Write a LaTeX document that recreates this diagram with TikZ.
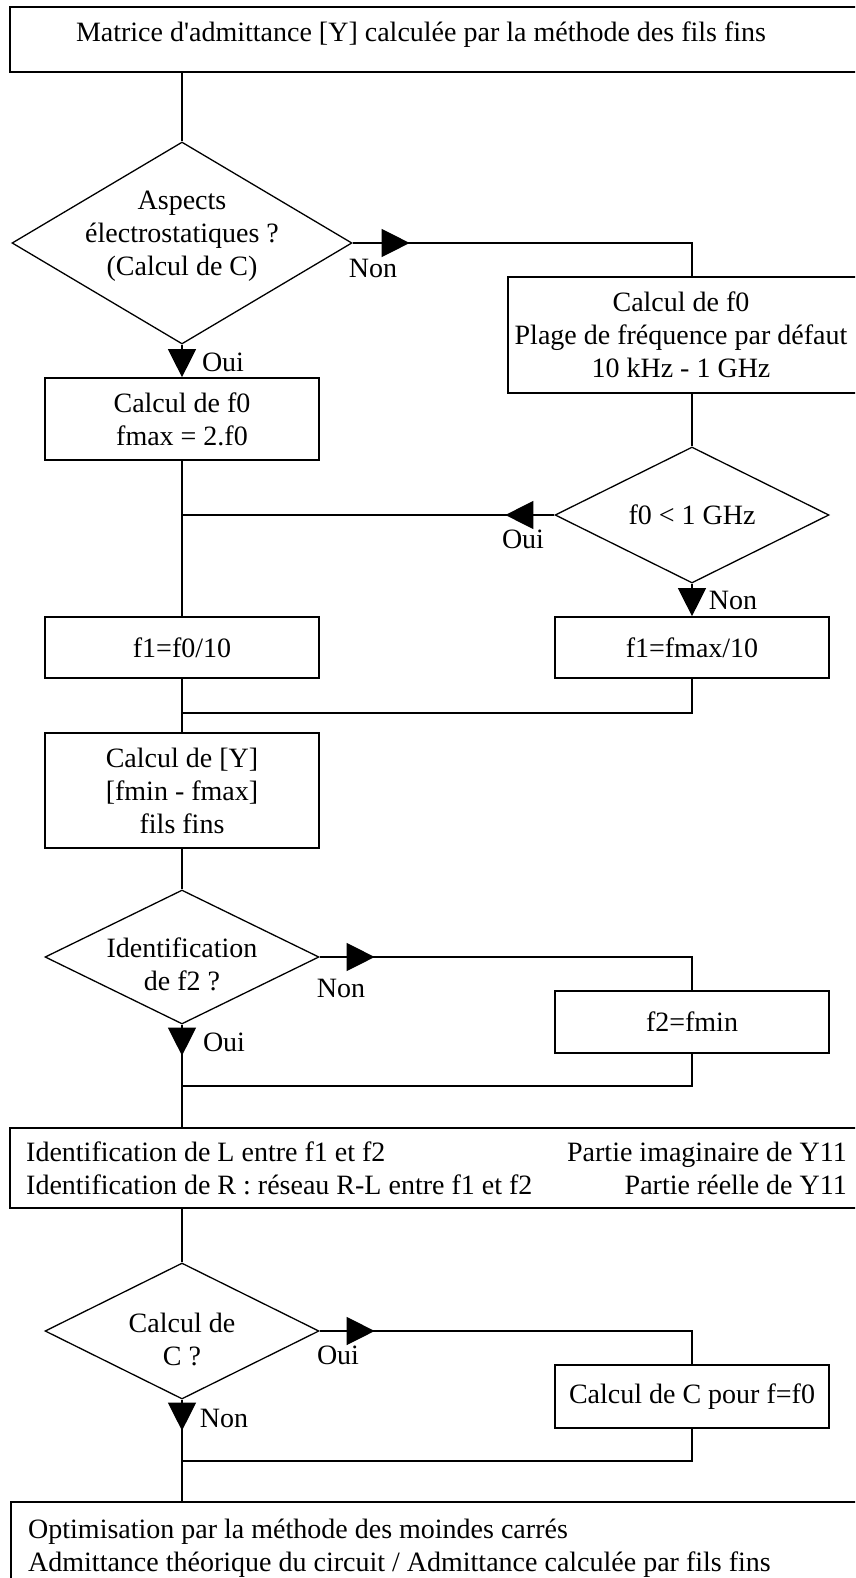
\documentclass[tikz,border=0pt]{standalone}
\usepackage{fontspec}
\setmainfont{Liberation Serif}
\newfontfamily\fontdroite[Ligatures=ResetAll]{Liberation Serif}
\usetikzlibrary{arrows.meta, shapes.geometric, decorations.markings}

\begin{document}
\begin{tikzpicture}[
	x=1pt, y=-1pt,
	every node/.style={font=\fontsize{28pt}{33pt}\selectfont},
	boite/.style={draw, line width=1.7pt, align=center, inner sep=0pt},
	losange/.style={diamond, draw, line width=1.3pt, inner sep=0pt},
	texte/.style={align=center, inner sep=0pt},
	etiquette/.style={inner sep=0pt},
	lien/.style={line width=1.3pt},
	pointe/.style={lien, -{Triangle[length=28pt, width=28pt]}},
	fleche/.style={lien, postaction={decorate},
		decoration={markings, mark=at position #1 with {\arrow{Triangle[length=28pt, width=28pt]}}}}
	]
	
	\useasboundingbox (0,0) rectangle (855,1578);
	\fill[white] (0,0) rectangle (855,1578);
	\clip (0,0) rectangle (855,1578);
	
	% ==========================================
	% Entree : matrice [Y]
	% ==========================================
	
	\node[boite, minimum width=860pt, minimum height=65pt] (titre) at (440,39.5) {};
	\node[texte] (titretxt) at (421,35) {Matrice d{\fontdroite '}admittance [Y] calculée par la méthode des fils fins};
	
	% Premier test
	\node[losange, minimum width=340pt, minimum height=202pt] (d1) at (182,243) {};
	\node[texte] (d1txt) at (182,236) {Aspects\\électrostatiques ?\\(Calcul de C)};
	
	% Branche Oui / branche Non
	\node[boite, minimum width=274pt, minimum height=82pt] (calf0a) at (182,419) {Calcul de f0\\fmax = 2.f0};
	\node[boite, minimum width=368pt, minimum height=116pt] (calf0b) at (692,335) {};
	\node[texte] (calf0btxt) at (681,335) {Calcul de f0\\Plage de fréquence par défaut\\10 kHz - 1 GHz};
	
	% Test sur f0
	\node[losange, minimum width=274pt, minimum height=136pt] (d2) at (692,515) {};
	\node[texte] (d2txt) at (692,515) {f0 < 1 GHz};
	
	\node[boite, minimum width=274pt, minimum height=61pt] (f1a) at (182,647.5) {f1=f0/10};
	\node[boite, minimum width=274pt, minimum height=61pt] (f1b) at (692,647.5) {f1=fmax/10};
	
	% ==========================================
	% Calcul de [Y] et identification de f2
	% ==========================================
	
	\node[boite, minimum width=274pt, minimum height=115pt] (calY) at (182,790.5) {Calcul de [Y]\\{}[fmin - fmax]\\fils fins};
	
	\node[losange, minimum width=274pt, minimum height=134pt] (d3) at (182,957) {};
	\node[texte] (d3txt) at (182,964) {Identification\\de f2 ?};
	
	\node[boite, minimum width=274pt, minimum height=62pt] (f2) at (692,1022) {f2=fmin};
	
	% Identification de L et R
	\node[boite, minimum width=860pt, minimum height=80pt] (identL) at (440,1168) {};
	\node[texte, anchor=west, align=left] (identLg) at (26,1168) {Identification de L entre f1 et f2\\Identification de R : réseau R-L entre f1 et f2};
	\node[texte, anchor=east, align=right] (identLd) at (847,1168) {Partie imaginaire de Y11\\Partie réelle de Y11};
	
	% ==========================================
	% Calcul de C et optimisation
	% ==========================================
	
	\node[losange, minimum width=274pt, minimum height=136pt] (d4) at (182,1331) {};
	\node[texte] (d4txt) at (182,1339) {Calcul de\\C ?};
	
	\node[boite, minimum width=274pt, minimum height=63pt] (calC) at (692,1396.5) {Calcul de C pour f=f0};
	
	\node[boite, minimum width=860pt, minimum height=100pt, anchor=north west] (optim) at (10,1501) {};
	\node[texte, anchor=north west, align=left] (optimtxt) at (28,1519) {Optimisation par la méthode des moindes carrés\\Admittance théorique du circuit / Admittance calculée par fils fins};
	
	% ==========================================
	% Liaisons
	% ==========================================
	
	\draw[lien] (d1.north |- titre.south) -- (d1.north);
	\draw[fleche=57pt] (d1.east) -| (calf0b.north);
	\draw[pointe] (d1.south) -- (calf0a.north);
	
	\draw[lien] (calf0b.south) -- (d2.north);
	\coordinate (j1) at (calf0a.south |- d2.west);
	\draw[fleche=49pt] (d2.west) -- (j1);
	\draw[lien] (calf0a.south) -- (f1a.north);
	\draw[pointe] (d2.south) -- (f1b.north);
	
	\coordinate (j2) at (182,713);
	\draw[lien] (f1b.south) |- (j2);
	\draw[lien] (f1a.south) -- (calY.north);
	\draw[lien] (calY.south) -- (d3.north);
	
	\draw[fleche=55pt] (d3.east) -| (f2.north);
	\draw[fleche=31pt] (d3.south) -- (d3.south |- identL.north);
	\coordinate (j3) at (182,1086);
	\draw[lien] (f2.south) |- (j3);
	
	\draw[lien] (d4.north |- identL.south) -- (d4.north);
	\draw[fleche=55pt] (d4.east) -| (calC.north);
	\draw[fleche=31pt] (d4.south) -- (d4.south |- optim.north);
	\coordinate (j4) at (182,1461);
	\draw[lien] (calC.south) |- (j4);
	
	% Oui / Non
	\node[etiquette] (non1) at (373,268) {Non};
	\node[etiquette] (oui1) at (223,362) {Oui};
	\node[etiquette] (oui2) at (523,539) {Oui};
	\node[etiquette] (non2) at (733,600) {Non};
	\node[etiquette] (non3) at (341,988) {Non};
	\node[etiquette] (oui3) at (224,1042) {Oui};
	\node[etiquette] (oui4) at (338,1355) {Oui};
	\node[etiquette] (non4) at (224,1418) {Non};
\end{tikzpicture}
\end{document}
